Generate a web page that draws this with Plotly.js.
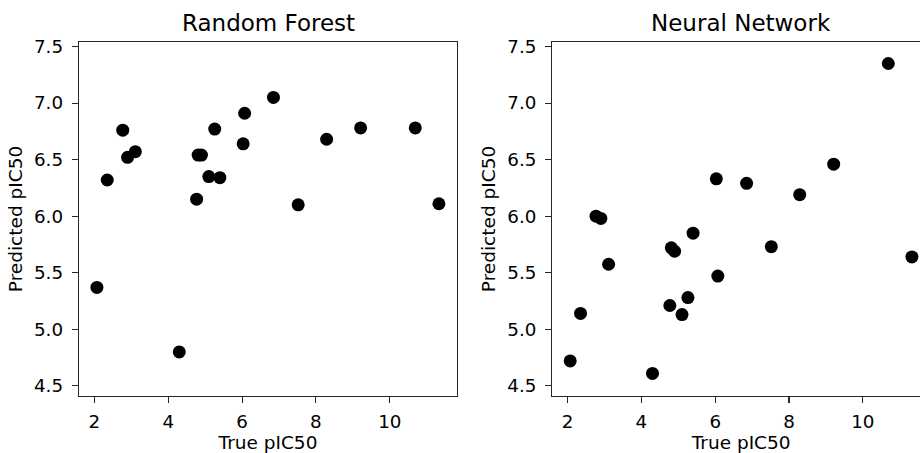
<!DOCTYPE html>
<html>
<head>
<meta charset="utf-8">
<script src="https://cdn.plot.ly/plotly-3.0.1.min.js"></script>
<style>
html, body { margin: 0; padding: 0; overflow: hidden; width: 920px; height: 453px; background: #fff; }
#chart { width: 930px; height: 453px; }
</style>
</head>
<body>
<div id="chart"></div>
<script>
// True pIC50 values (shared x)
const truePIC50 = [2.07, 2.35, 2.77, 2.90, 3.11, 4.30, 4.77, 4.81, 4.90, 5.10, 5.26, 5.40, 6.03, 6.07, 6.85, 7.52, 8.29, 9.21, 10.69, 11.33];
// Random Forest predictions (same order as truePIC50)
const rfPred = [5.37, 6.32, 6.76, 6.52, 6.57, 4.80, 6.15, 6.54, 6.54, 6.35, 6.77, 6.34, 6.64, 6.91, 7.05, 6.10, 6.68, 6.78, 6.78, 6.11];
// Neural Network predictions (same order as truePIC50)
const nnPred = [4.72, 5.14, 6.00, 5.98, 5.575, 4.61, 5.21, 5.72, 5.69, 5.13, 5.28, 5.85, 6.33, 5.47, 6.29, 5.73, 6.19, 6.46, 7.35, 5.64];
const titles = ["Random Forest", "Neural Network"];
const xLabel = "True pIC50";
const yLabel = "Predicted pIC50";
const xTicks = [2, 4, 6, 8, 10];
const yTicks = [4.5, 5.0, 5.5, 6.0, 6.5, 7.0, 7.5];

const FONT = "DejaVu Sans, sans-serif";
const W = 930, H = 453;
const marker = { color: "#000000", size: 13, line: { width: 0 } };

const traces = [
  { x: truePIC50, y: rfPred, type: "scatter", mode: "markers", marker: marker, xaxis: "x", yaxis: "y", showlegend: false },
  { x: truePIC50, y: nnPred, type: "scatter", mode: "markers", marker: marker, xaxis: "x2", yaxis: "y2", showlegend: false }
];

function xAxis(domain, anchor) {
  return {
    domain: domain, anchor: anchor, range: [1.585, 11.82],
    tickvals: xTicks, ticktext: xTicks.map(String),
    ticks: "outside", ticklen: 6, tickwidth: 1.1, tickcolor: "#262626",
    ticklabelstandoff: 3,
    showline: true, mirror: true, linecolor: "#262626", linewidth: 1.3,
    showgrid: false, zeroline: false,
    tickfont: { family: FONT, size: 18.3, color: "#000" },
    title: { text: xLabel, font: { family: FONT, size: 18.5, color: "#000" }, standoff: 5 },
    automargin: false
  };
}
function yAxis(domain, anchor) {
  return {
    domain: domain, anchor: anchor, range: [4.41, 7.54],
    tickvals: yTicks, ticktext: yTicks.map(v => v.toFixed(1)),
    ticks: "outside", ticklen: 6, tickwidth: 1.1, tickcolor: "#262626",
    ticklabelstandoff: 5,
    showline: true, mirror: true, linecolor: "#262626", linewidth: 1.3,
    showgrid: false, zeroline: false,
    tickfont: { family: FONT, size: 18.3, color: "#000" },
    title: { text: yLabel, font: { family: FONT, size: 18.5, color: "#000" }, standoff: 6 },
    automargin: false
  };
}

const yDom = [1 - 396 / H, 1 - 42 / H];
const layout = {
  width: W, height: H,
  margin: { l: 0, r: 0, t: 0, b: 0, pad: 0 },
  paper_bgcolor: "#fff", plot_bgcolor: "#fff",
  xaxis: xAxis([79 / W, 457 / W], "y"),
  yaxis: yAxis(yDom, "x"),
  xaxis2: xAxis([552.3 / W, 1.0], "y2"),
  yaxis2: yAxis(yDom, "x2"),
  annotations: [
    { text: titles[0], xref: "paper", yref: "paper", x: (79 + 457) / 2 / W, y: 1 - 23 / H, xanchor: "center", yanchor: "middle", showarrow: false, font: { family: FONT, size: 23, color: "#000" } },
    { text: titles[1], xref: "paper", yref: "paper", x: (552.3 + 930) / 2 / W, y: 1 - 23 / H, xanchor: "center", yanchor: "middle", showarrow: false, font: { family: FONT, size: 23, color: "#000" } }
  ]
};

Plotly.newPlot("chart", traces, layout, { staticPlot: true, displayModeBar: false });
</script>
</body>
</html>
